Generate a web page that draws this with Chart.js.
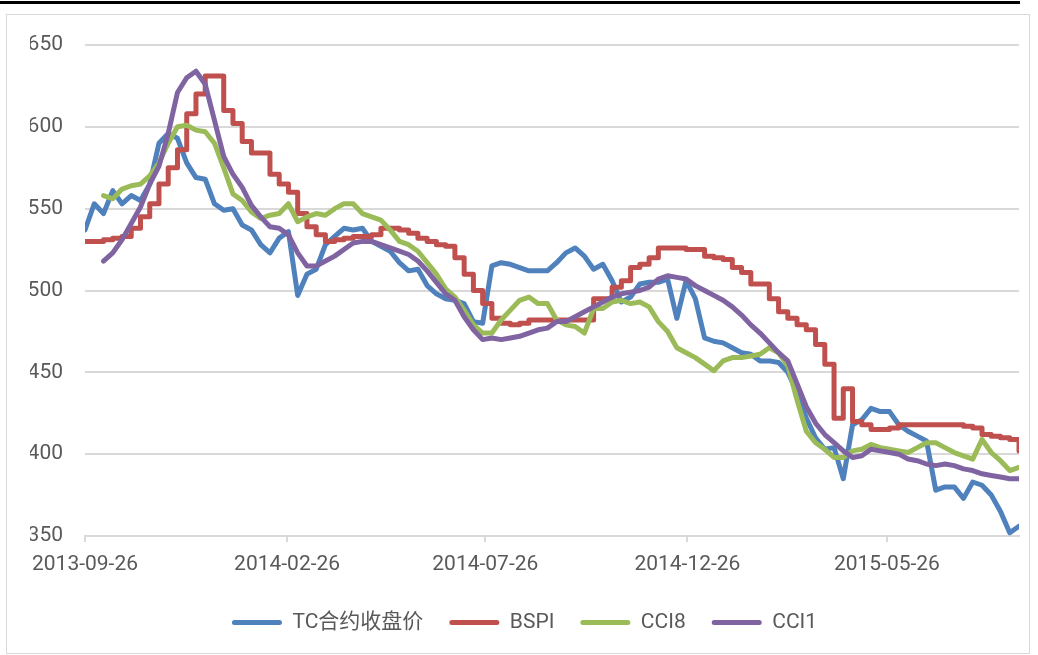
<!DOCTYPE html>
<html>
<head>
<meta charset="utf-8">
<script src="https://cdn.jsdelivr.net/npm/chart.js@4.4.1/dist/chart.umd.min.js"></script>
<style>
  html, body { margin: 0; padding: 0; background: #fff; }
  #wrap { position: relative; width: 1038px; height: 655px; overflow: hidden; }
  #topRule { position: absolute; left: 0; top: 1px; width: 1020px; height: 3px; background: #000; }
  #frame { position: absolute; left: 6px; top: 14px; width: 1024px; height: 640px; border: 1px solid #d9d9d9; box-sizing: border-box; }
  #myChart { position: absolute; left: 0; top: 0; }
</style>
</head>
<body>
<div id="wrap">
  <div id="topRule"></div>
  <div id="frame"></div>
  <canvas id="myChart" width="1038" height="655"></canvas>
</div>
<script>
// Weekly samples starting 2013-09-26
const startDate = '2013-09-26';
const stepDays = 7;

// Axis tick labels
const tickLabels = ['2013-09-26', '2014-02-26', '2014-07-26', '2014-12-26', '2015-05-26'];

// Series names
const seriesNames = ['TC合约收盘价', 'BSPI', 'CCI8', 'CCI1'];

// TC合约收盘价
const tcClose = [
    537, 553, 547, 561, 553, 558, 555, 565, 590, 596,
    593, 578, 569, 568, 553, 549, 550, 540, 537, 528,
    523, 532, 536, 497, 510, 513, 528, 533, 538, 537,
    538, 530, 527, 524, 517, 512, 513, 503, 498, 495,
    494, 492, 481, 480, 515, 517, 516, 514, 512, 512,
    512, 517, 523, 526, 521, 513, 516, 506, 493, 496,
    504, 505, 505, 507, 483, 506, 495, 471, 469, 468,
    465, 462, 461, 457, 457, 456, 450, 438, 422, 410,
    403, 404, 385, 418, 421, 428, 426, 426, 418, 414,
    411, 408, 378, 380, 380, 373, 383, 381, 375, 365,
    352, 356
];

// BSPI (weekly index, drawn stepped)
const bspi = [
    530, 530, 531, 532, 533, 538, 545, 553, 565, 575,
    586, 608, 620, 631, 631, 610, 602, 591, 584, 584,
    571, 565, 560, 547, 539, 534, 530, 531, 532, 533,
    533, 534, 538, 538, 537, 535, 532, 530, 528, 527,
    520, 510, 500, 492, 483, 480, 479, 480, 482, 482,
    482, 482, 482, 482, 482, 495, 495, 502, 506, 514,
    516, 520, 526, 526, 526, 525, 525, 521, 520, 519,
    514, 511, 504, 504, 495, 487, 483, 479, 476, 467,
    455, 422, 440, 420, 418, 415, 415, 416, 418, 418,
    418, 418, 418, 418, 418, 417, 416, 412, 411, 410,
    409, 402
];

// CCI8
const cci8 = [
    null, null, 558, 556, 562, 564, 565, 570, 578, 590,
    600, 601, 598, 597, 590, 575, 559, 555, 548, 544,
    546, 547, 553, 542, 545, 547, 546, 550, 553, 553,
    547, 545, 543, 537, 530, 528, 524, 517, 510, 501,
    496, 488, 479, 474, 474, 482, 488, 494, 496, 492,
    492, 482, 479, 478, 474, 489, 489, 493, 494, 492,
    493, 490, 481, 475, 465, 462, 459, 455, 451, 457,
    459, 459, 460, 461, 465, 462, 454, 433, 414, 407,
    403, 398, 398, 402, 403, 406, 404, 403, 402, 401,
    404, 407, 407, 404, 401, 399, 397, 409, 401, 396,
    390, 392
];

// CCI1
const cci1 = [
    null, null, 518, 523, 531, 541, 551, 565, 576, 596,
    621, 630, 634, 626, 604, 582, 571, 563, 552, 545,
    539, 538, 534, 523, 515, 515, 518, 521, 525, 529,
    530, 530, 528, 526, 524, 522, 518, 512, 505, 498,
    494, 484, 476, 470, 471, 470, 471, 472, 474, 476,
    477, 481, 481, 484, 487, 490, 493, 496, 498, 499,
    500, 502, 507, 509, 508, 507, 503, 500, 497, 494,
    490, 485, 479, 474, 468, 462, 457, 443, 429, 419,
    412, 407, 402, 398, 399, 403, 402, 401, 400, 397,
    396, 394, 393, 394, 393, 391, 390, 388, 387, 386,
    385, 385
];

const seriesColors = ['#4F81BD', '#C0504D', '#9BBB59', '#8064A2'];

// Day offsets from the start date
const dayMs = 86400000;
function dayOffset(dateStr) {
    return Math.round((Date.parse(dateStr) - Date.parse(startDate)) / dayMs);
}
const tickDays = tickLabels.map(dayOffset);
const sampleDays = tcClose.map((v, i) => i * stepDays);

function toPoints(values) {
    return values.map((v, i) => ({ x: sampleDays[i], y: v }));
}

const labelFont = { family: "Roboto, 'Noto Sans CJK SC', sans-serif", size: 21 };
const textColor = '#595959';
const gridColor = '#d9d9d9';

const seriesValues = [tcClose, bspi, cci8, cci1];

const ctx = document.getElementById('myChart').getContext('2d');
const chart = new Chart(ctx, {
    type: 'line',
    data: {
        datasets: seriesValues.map((vals, i) => ({
            label: seriesNames[i],
            data: toPoints(vals),
            borderColor: seriesColors[i],
            backgroundColor: seriesColors[i],
            borderWidth: 5,
            pointRadius: 0,
            pointHoverRadius: 0,
            tension: 0,
            fill: false,
            spanGaps: false,
            stepped: i === 1 ? true : false,
            borderJoinStyle: 'round',
            borderCapStyle: 'round',
            order: 4 - i
        }))
    },
    options: {
        responsive: false,
        animation: false,
        layout: {
            padding: { left: 30, right: 19, top: 45, bottom: 12 }
        },
        scales: {
            x: {
                type: 'linear',
                min: 0,
                max: sampleDays[sampleDays.length - 1],
                afterBuildTicks: scale => {
                    scale.ticks = tickDays.map(d => ({ value: d }));
                },
                afterFit: scale => {
                    scale.height = 50;
                },
                ticks: {
                    autoSkip: false,
                    maxRotation: 0,
                    color: textColor,
                    font: labelFont,
                    padding: 10,
                    callback: value => tickLabels[tickDays.indexOf(value)]
                },
                grid: {
                    drawOnChartArea: false,
                    drawTicks: true,
                    tickLength: 6,
                    color: gridColor,
                    lineWidth: 2
                },
                border: {
                    display: true,
                    color: gridColor,
                    width: 2
                }
            },
            y: {
                min: 350,
                max: 650,
                afterFit: scale => {
                    scale.width = 55;
                },
                ticks: {
                    stepSize: 50,
                    color: textColor,
                    font: labelFont,
                    padding: 22
                },
                grid: {
                    color: gridColor,
                    lineWidth: 2,
                    drawTicks: false
                },
                border: {
                    display: false
                }
            }
        },
        plugins: {
            legend: {
                display: true,
                position: 'bottom',
                labels: {
                    color: textColor,
                    font: labelFont,
                    boxWidth: 50,
                    boxHeight: 5,
                    padding: 26,
                    useBorderRadius: true,
                    borderRadius: 2.5,
                    sort: (a, b) => a.datasetIndex - b.datasetIndex,
                    generateLabels: c => Chart.defaults.plugins.legend.labels.generateLabels(c)
                        .map(item => Object.assign(item, { lineWidth: 0 }))
                }
            },
            tooltip: { enabled: false }
        }
    }
});
</script>
</body>
</html>
